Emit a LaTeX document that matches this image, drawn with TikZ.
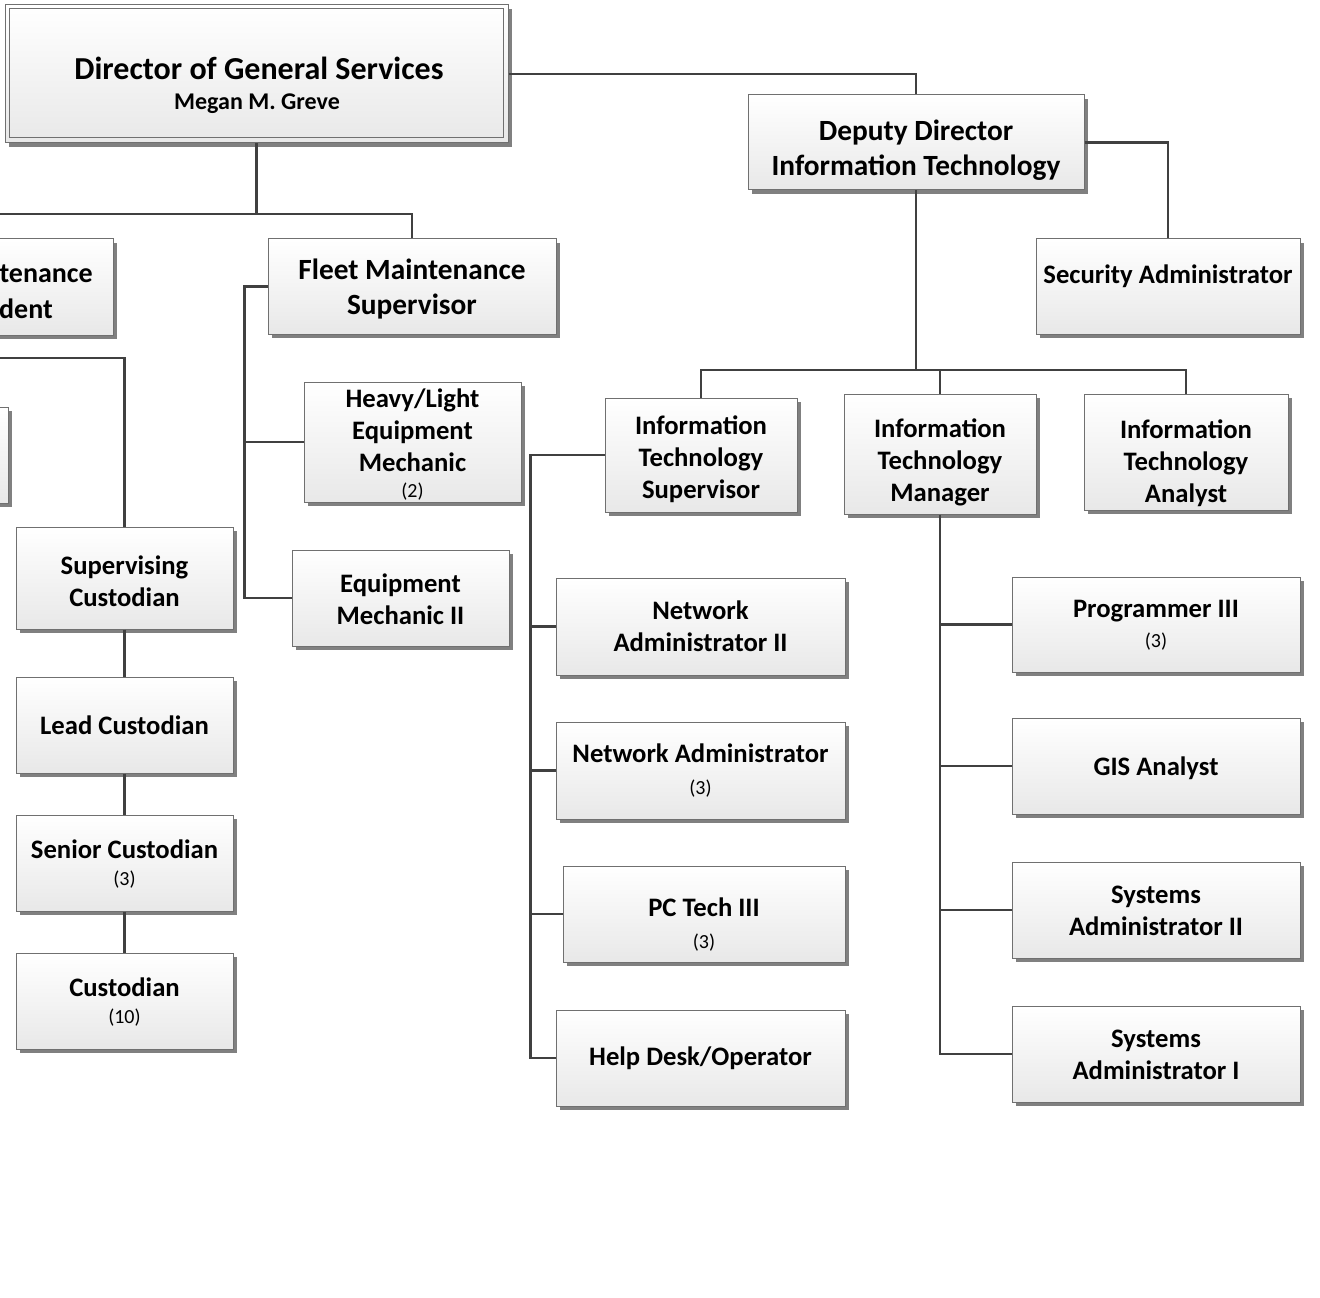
\documentclass[tikz,border=0pt]{standalone}
\usepackage{fontspec}
\setmainfont{Carlito}
\usetikzlibrary{shadows}
\definecolor{lnk}{HTML}{404040}
\definecolor{bord}{HTML}{707070}
\definecolor{shd}{HTML}{808080}
\tikzset{
  box/.style={draw=bord, line width=0.75pt, top color=white, bottom color=black!9,
    inner sep=0pt,
    drop shadow={shadow xshift=3.2pt, shadow yshift=-3.2pt, fill=shd, opacity=1}},
  txt/.style={inner sep=0pt, align=center, font=\bfseries\fontsize{20}{24}\selectfont},
  bigtxt/.style={txt, font=\bfseries\fontsize{22}{26.25}\selectfont},
  innerframe/.style={draw=bord, line width=0.75pt, inner sep=0pt},
  link/.style={draw=lnk, line width=1.8pt},
  plain/.style={inner sep=0pt, anchor=base},
}
\newcommand\cnt{\mdseries\fontsize{15}{18}\selectfont}
% \ob[text style]{name}{x1}{y1}{x2}{y2}{text shift down}{text}  (pixel corners of the box)
\newcommand\ob[8][txt]{%
  \node[box, minimum width={(#5-#3)*0.75pt}, minimum height={(#6-#4)*0.75pt}]
    (#2) at ({(#3+#5)/2},{(#4+#6)/2}) {};
  \node[#1] (#2-t) at ([yshift={-0.75pt*(#7)}]#2.center) {#8};}
\begin{document}
\begin{tikzpicture}[x=0.75pt,y=-0.75pt]
\useasboundingbox (0,0) rectangle (1320,1298);
\fill[white] (0,0) rectangle (1320,1298);
\clip (0,0) rectangle (1320,1298);

% ---- boxes ----
\node[box, minimum width=377.25pt, minimum height=103.5pt] (dir) at (256.5,74) {};
\node[innerframe, minimum width=370.5pt, minimum height=96.75pt] (dirin) at (256,73.5) {};
\node[plain, font=\bfseries\fontsize{24}{28}\selectfont] (dirt) at (259,79.5) {Director of General Services};
\node[plain, font=\bfseries\fontsize{18}{22}\selectfont] (dirn) at (257,110) {Megan M. Greve};

\ob[bigtxt]{dep}{748}{95}{1084}{190}{8}{Deputy Director\\Information Technology}
\ob{sec}{1036}{239}{1300}{334}{-10}{Security Administrator}

\ob{itsup}{605}{398}{797}{512}{4}{Information\\Technology\\Supervisor}
\ob{itman}{844}{394}{1036}{514}{8}{Information\\Technology\\Manager}
\ob{itan}{1084}{394}{1288}{510}{11}{Information\\Technology\\Analyst}

\ob{nad2}{556}{578}{845}{675}{0}{Network\\Administrator II}
\ob{nad}{556}{722}{845}{819}{0}{Network Administrator\\[0pt]{\cnt (3)}}
\ob{pc}{563}{866}{845}{962}{11}{PC Tech III\\[0pt]{\cnt (3)}}
\ob{help}{556}{1010}{845}{1106}{0}{Help Desk/Operator}

\ob{prog}{1012}{577}{1300}{672}{1}{Programmer III\\[-1.25pt]{\cnt (3)}}
\ob{gis}{1012}{718}{1300}{814}{2}{GIS Analyst}
\ob{sa2}{1012}{862}{1300}{958}{1}{Systems\\Administrator II}
\ob{sa1}{1012}{1006}{1300}{1102}{1}{Systems\\Administrator I}

\ob[bigtxt]{fleet}{268}{239}{556}{334}{3}{Fleet Maintenance\\Supervisor}
\ob{heavy}{304}{382}{521}{502}{3}{Heavy/Light\\Equipment\\Mechanic\\[-4.5pt]{\cnt (2)}}
\ob{em2}{292}{550}{509}{646}{1}{Equipment\\Mechanic II}

\node[box, minimum width=144.75pt, minimum height=72pt] (supt) at (16.5,287) {};
\node[plain, anchor=base east, font=\bfseries\fontsize{21}{26}\selectfont] (supt1) at (93,282) {tenance};
\node[plain, anchor=base east, font=\bfseries\fontsize{21}{26}\selectfont] (supt2) at (53,318) {dent};
\node[box, minimum width=66pt, minimum height=72pt] (part) at (-36,455) {};

\ob{scust}{16}{527}{233}{629}{3}{Supervising\\Custodian}
\ob{lcust}{16}{677}{233}{773}{0}{Lead Custodian}
\ob{secust}{16}{815}{233}{911}{1}{Senior Custodian\\[-3.75pt]{\cnt (3)}}
\ob{cust}{16}{953}{233}{1049}{1}{Custodian\\[-3.75pt]{\cnt (10)}}

% ---- connectors ----
\coordinate (lbus) at (0,214);
\coordinate (lstub) at (0,358);
\coordinate (itbus) at (916,370);

\draw[link] (dir.east) -| (dep.north);
\draw[link] (dir.south) -- (dir.south |- lbus);
\draw[link] (lbus) -| (fleet.north);

\draw[link] (fleet.west) -- ++(-23,0) coordinate (fv) |- (em2.west);
\draw[link] (fv |- heavy.west) -- (heavy.west);

\draw[link] (lstub) -| (scust.north);
\draw[link] (scust.south) -- (lcust.north);
\draw[link] (lcust.south) -- (secust.north);
\draw[link] (secust.south) -- (cust.north);

\draw[link] (dep.east) -| (sec.north);
\draw[link] (dep.south) -- (itbus);
\draw[link] (itsup.north) |- (itan.north |- itbus) -- (itan.north);
\draw[link] (itman.north) -- (itman.north |- itbus);

\draw[link] (itsup.west) -- ++(-74,0) coordinate (sv) |- (help.west);
\draw[link] (sv |- nad2.west) -- (nad2.west);
\draw[link] (sv |- nad.west) -- (nad.west);
\draw[link] (sv |- pc.west) -- (pc.west);

\draw[link] (itman.south) |- (sa1.west);
\draw[link] (itman.south |- prog.west) -- (prog.west);
\draw[link] (itman.south |- gis.west) -- (gis.west);
\draw[link] (itman.south |- sa2.west) -- (sa2.west);
\end{tikzpicture}
\end{document}
